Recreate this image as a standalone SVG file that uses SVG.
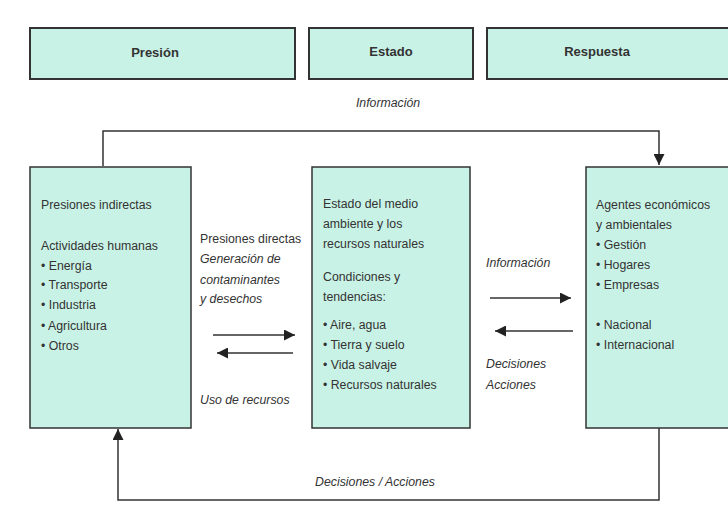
<svg xmlns="http://www.w3.org/2000/svg" width="728" height="519" viewBox="0 0 728 519">
<defs>
<style>
.box{fill:#c9f2e6;stroke:#333;stroke-width:1.5}
.hdr{fill:#c9f2e6;stroke:#333;stroke-width:2}
.t{font-family:"Liberation Sans",Arial,sans-serif;font-size:12.3px;fill:#333}
.it{font-style:italic}
.b{font-weight:bold;font-size:13px}
.ln{fill:none;stroke:#333;stroke-width:1.5}
</style>
<marker id="ah" viewBox="0 0 10 10" refX="10" refY="5" markerWidth="11" markerHeight="11" markerUnits="userSpaceOnUse" orient="auto">
<path d="M0,0 L10,5 L0,10 Z" fill="#222"/>
</marker>
</defs>
<rect width="728" height="519" fill="#fff"/>
<g id="presion-hdr"><rect class="hdr" x="30" y="28" width="265" height="51"/><text class="t b" x="155" y="57" text-anchor="middle">Presión</text></g>
<g id="estado-hdr"><rect class="hdr" x="309" y="28" width="164" height="51"/><text class="t b" x="391" y="56" text-anchor="middle">Estado</text></g>
<g id="respuesta-hdr"><rect class="hdr" x="487" y="28" width="250" height="51"/><text class="t b" x="597" y="56" text-anchor="middle">Respuesta</text></g>
<g id="connectors">
<path class="ln" d="M103,166 V131 H659 V165" marker-end="url(#ah)"/>
<path class="ln" d="M659,428 V500 H118 V429" marker-end="url(#ah)"/>
<path class="ln" d="M213,335 H295" marker-end="url(#ah)"/>
<path class="ln" d="M293,353 H217" marker-end="url(#ah)"/>
<path class="ln" d="M490,298 H571" marker-end="url(#ah)"/>
<path class="ln" d="M573,331 H495" marker-end="url(#ah)"/>
<text class="t it" x="388" y="107" text-anchor="middle">Información</text>
<text class="t it" x="375" y="486" text-anchor="middle">Decisiones / Acciones</text>
<text class="t" x="200" y="243">Presiones directas</text>
<text class="t it" x="200" y="263">Generación de</text>
<text class="t it" x="200" y="284">contaminantes</text>
<text class="t it" x="200" y="303">y desechos</text>
<text class="t it" x="200" y="404">Uso de recursos</text>
<text class="t it" x="486" y="267">Información</text>
<text class="t it" x="486" y="368">Decisiones</text>
<text class="t it" x="486" y="389">Acciones</text>
</g>
<g id="presiones">
<rect class="box" x="30" y="167" width="161" height="261"/>
<text class="t" x="41" y="209">Presiones indirectas</text>
<text class="t" x="41" y="250">Actividades humanas</text>
<text class="t" x="41" y="270">• Energía</text>
<text class="t" x="41" y="289">• Transporte</text>
<text class="t" x="41" y="309">• Industria</text>
<text class="t" x="41" y="330">• Agricultura</text>
<text class="t" x="41" y="350">• Otros</text>
</g>
<g id="estado">
<rect class="box" x="312" y="167" width="158" height="261"/>
<text class="t" x="323" y="208">Estado del medio</text>
<text class="t" x="323" y="228">ambiente y los</text>
<text class="t" x="323" y="248">recursos naturales</text>
<text class="t" x="323" y="281">Condiciones y</text>
<text class="t" x="323" y="301">tendencias:</text>
<text class="t" x="323" y="329">• Aire, agua</text>
<text class="t" x="323" y="349">• Tierra y suelo</text>
<text class="t" x="323" y="369">• Vida salvaje</text>
<text class="t" x="323" y="389">• Recursos naturales</text>
</g>
<g id="respuesta">
<rect class="box" x="586" y="167" width="150" height="261"/>
<text class="t" x="596" y="209">Agentes económicos</text>
<text class="t" x="596" y="229">y ambientales</text>
<text class="t" x="596" y="249">• Gestión</text>
<text class="t" x="596" y="269">• Hogares</text>
<text class="t" x="596" y="289">• Empresas</text>
<text class="t" x="596" y="329">• Nacional</text>
<text class="t" x="596" y="349">• Internacional</text>
</g>
</svg>
